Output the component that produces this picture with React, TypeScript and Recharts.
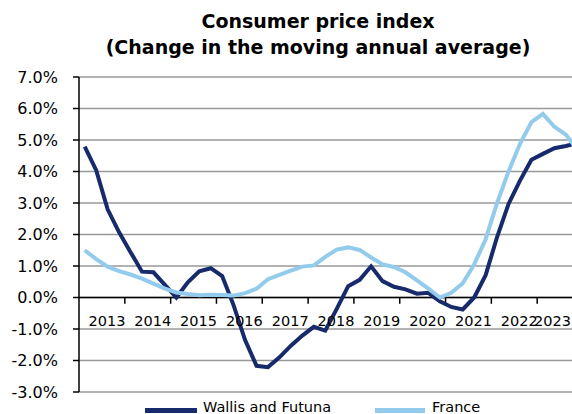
import React from 'react';
import { LineChart, Line, XAxis, YAxis, CartesianGrid, ReferenceLine } from 'recharts';

// quarterly points, 2013 Q1 .. 2023 Q4 (moving annual average, % change)
const wallisFutuna = [
  4.79, 4.04, 2.8, 2.07, 1.44, 0.82, 0.8, 0.4, 0.0, 0.48, 0.83, 0.93,
  0.68, -0.25, -1.35, -2.17, -2.21, -1.9, -1.53, -1.21, -0.93, -1.05, -0.36, 0.36,
  0.56, 0.99, 0.52, 0.34, 0.26, 0.12, 0.15, -0.12, -0.3, -0.38, 0.0, 0.71,
  1.92, 2.97, 3.71, 4.37, 4.56, 4.74, 4.81, 4.9,
];
const france = [
  1.5, 1.22, 0.98, 0.84, 0.73, 0.6, 0.44, 0.28, 0.16, 0.11, 0.07, 0.09,
  0.08, 0.06, 0.14, 0.28, 0.58, 0.72, 0.85, 0.98, 1.02, 1.29, 1.52, 1.59,
  1.51, 1.27, 1.05, 0.97, 0.8, 0.54, 0.28, 0.0, 0.15, 0.45, 1.05, 1.85,
  3.0, 4.0, 4.88, 5.57, 5.83, 5.42, 5.17, 4.7,
];
const years = [2013, 2014, 2015, 2016, 2017, 2018, 2019, 2020, 2021, 2022, 2023];
const yTicks = [-3, -2, -1, 0, 1, 2, 3, 4, 5, 6, 7];

const data = wallisFutuna.map((v, i) => ({ q: i + 0.5, wf: v, fr: france[i] }));
const yearMid = years.map((_, i) => i * 4 + 2);
const yearEdge = years.slice(1).map((_, i) => (i + 1) * 4);

const DARK = '#172a6b';
const LIGHT = '#93cbec';
const FONT = '"DejaVu Sans", Verdana, sans-serif';

function renderYearTick(props: any) {
  const { x, y, payload } = props;
  const yr = years[Math.round((payload.value - 2) / 4)];
  // the page is cut at 572px, keep the last label inside it
  const cx = x + 5;
  const tooFar = cx + 19 > 571;
  return (
    <text
      x={tooFar ? 571 : cx}
      y={y - 66}
      textAnchor={tooFar ? 'end' : 'middle'}
      fontSize={14.5}
      fontFamily={FONT}
      fill="#000"
    >
      {yr}
    </text>
  );
}

export default function App() {
  return (
    <div style={{ position: 'absolute', left: 0, top: 0, width: 572, height: 414, overflow: 'hidden', background: '#fff', fontFamily: FONT }}>
      <div style={{ position: 'absolute', left: 0, top: 8, width: 636, textAlign: 'center', fontWeight: 'bold', fontSize: 19, lineHeight: '26px', color: '#000' }}>
        Consumer price index
        <br />
        (Change in the moving annual average)
      </div>

      <LineChart width={600} height={414} data={data} margin={{ top: 77, right: 17, bottom: 2, left: 0 }}>
        <CartesianGrid horizontal vertical={false} stroke="#999" strokeWidth={1.5} />
        <XAxis
          dataKey="q"
          type="number"
          domain={[0, 44]}
          ticks={yearMid}
          height={20}
          axisLine={false}
          tickLine={false}
          tickSize={0}
          tickMargin={0}
          tick={renderYearTick}
          interval={0}
          allowDataOverflow
        />
        <YAxis
          type="number"
          domain={[-3, 7]}
          ticks={yTicks}
          width={79}
          interval={0}
          tickFormatter={(v: number) => `${v.toFixed(1)}%`}
          tick={{ fill: '#000', fontSize: 16, fontFamily: FONT }}
          axisLine={{ stroke: '#000', strokeWidth: 1.5 }}
          tickLine={{ stroke: '#000', strokeWidth: 1.5 }}
          tickSize={6}
          tickMargin={15}
        />
        <ReferenceLine y={0} stroke="#000" strokeWidth={1.5} />
        {yearEdge.map((e) => (
          <ReferenceLine
            key={e}
            segment={[{ x: e, y: 0 }, { x: e, y: -0.2 }]}
            stroke="#000"
            strokeWidth={1.5}
          />
        ))}
        <Line type="linear" dataKey="wf" stroke={DARK} strokeWidth={4} dot={false} isAnimationActive={false} />
        <Line type="linear" dataKey="fr" stroke={LIGHT} strokeWidth={4} dot={false} isAnimationActive={false} />
      </LineChart>

      <div style={{ position: 'absolute', left: 145, top: 400, fontSize: 14.5, color: '#000', whiteSpace: 'nowrap' }}>
        <span style={{ position: 'absolute', left: 0, top: 8, width: 52, height: 5, background: DARK }} />
        <span style={{ position: 'absolute', left: 58, top: 1, lineHeight: '13px' }}>Wallis and Futuna</span>
        <span style={{ position: 'absolute', left: 230, top: 8, width: 50, height: 5, background: LIGHT }} />
        <span style={{ position: 'absolute', left: 287, top: 1, lineHeight: '13px' }}>France</span>
      </div>
    </div>
  );
}
